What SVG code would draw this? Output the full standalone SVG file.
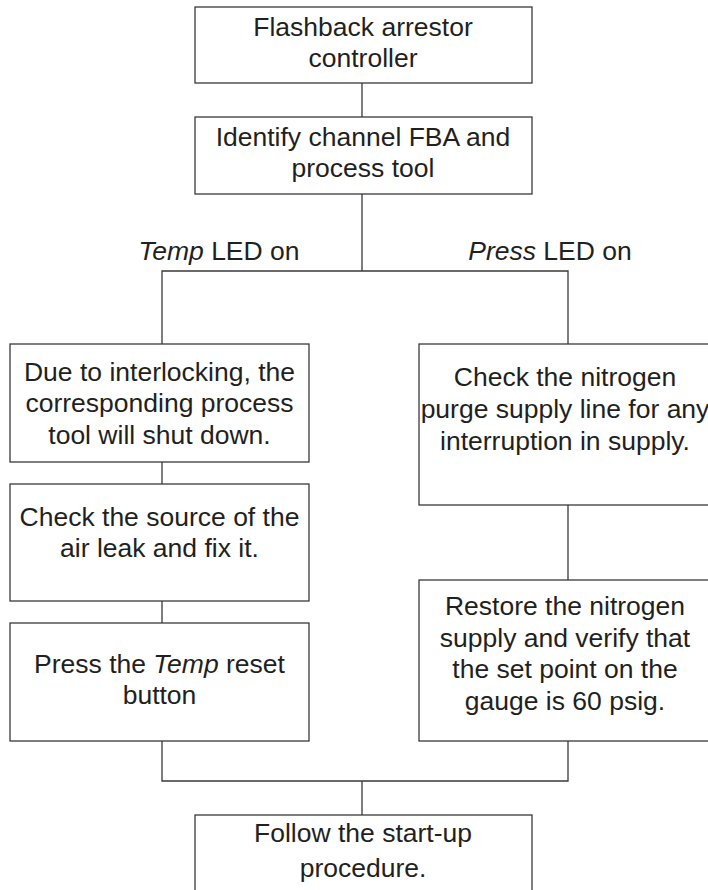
<svg xmlns="http://www.w3.org/2000/svg" width="708" height="890" viewBox="0 0 708 890">
<style>
.box{fill:#fff;stroke:#3a3a3a;stroke-width:1.3}
.ln{fill:none;stroke:#3a3a3a;stroke-width:1.3}
text{font-family:"Liberation Sans",Arial,sans-serif;font-size:26.5px;fill:#231f20;text-anchor:middle}
.i{font-style:italic}
</style>
<rect width="708" height="890" fill="#fff"/>
<g id="connectors">
<path class="ln" d="M362 83V117"/>
<path class="ln" d="M362 194V271"/>
<path class="ln" d="M162 344V271H568V344"/>
<path class="ln" d="M162 462V484"/>
<path class="ln" d="M162 601V623"/>
<path class="ln" d="M568 505V580"/>
<path class="ln" d="M162 741V781H568V741"/>
<path class="ln" d="M362 781V815"/>
<text x="219" y="260"><tspan class="i">Temp</tspan> LED on</text>
<text x="550" y="260"><tspan class="i">Press</tspan> LED on</text>
</g>
<g id="n1">
<rect class="box" x="195" y="7" width="337" height="76"/>
<text x="363" y="36">Flashback arrestor</text>
<text x="363" y="67">controller</text>
</g>
<g id="n2">
<rect class="box" x="195" y="117" width="337" height="77"/>
<text x="363" y="146">Identify channel FBA and</text>
<text x="363" y="177">process tool</text>
</g>
<g id="l1">
<rect class="box" x="10" y="344" width="299" height="118"/>
<text x="159.5" y="381">Due to interlocking, the</text>
<text x="159.5" y="412">corresponding process</text>
<text x="159.5" y="444">tool will shut down.</text>
</g>
<g id="l2">
<rect class="box" x="10" y="484" width="299" height="117"/>
<text x="159.5" y="526">Check the source of the</text>
<text x="159.5" y="557">air leak and fix it.</text>
</g>
<g id="l3">
<rect class="box" x="10" y="623" width="299" height="118"/>
<text x="159.5" y="673">Press the <tspan class="i">Temp</tspan> reset</text>
<text x="159.5" y="704">button</text>
</g>
<g id="r1">
<rect class="box" x="419" y="344" width="299" height="161"/>
<text x="565" y="386">Check the nitrogen</text>
<text x="565" y="418">purge supply line for any</text>
<text x="565" y="450">interruption in supply.</text>
</g>
<g id="r2">
<rect class="box" x="419" y="580" width="299" height="161"/>
<text x="565" y="615">Restore the nitrogen</text>
<text x="565" y="647">supply and verify that</text>
<text x="565" y="678">the set point on the</text>
<text x="565" y="710">gauge is 60 psig.</text>
</g>
<g id="n3">
<rect class="box" x="195" y="815" width="337" height="90"/>
<text x="363" y="842">Follow the start-up</text>
<text x="363" y="877">procedure.</text>
</g>
</svg>
